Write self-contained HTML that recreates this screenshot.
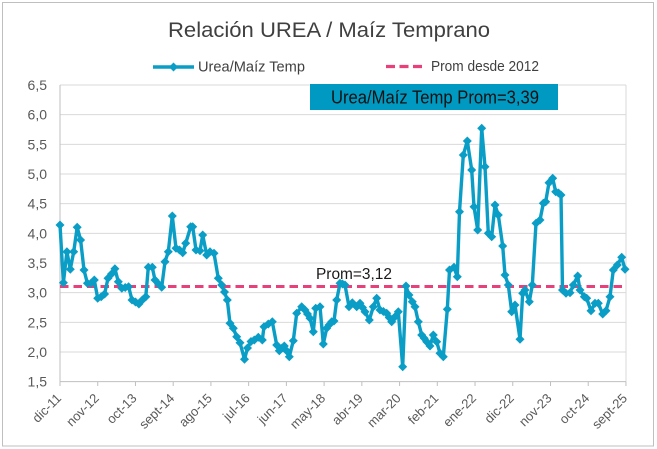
<!DOCTYPE html>
<html>
<head>
<meta charset="utf-8">
<style>
html,body{margin:0;padding:0;background:#fff;}
svg{display:block;}
text{font-family:"Liberation Sans",Arial,sans-serif;}
</style>
</head>
<body>
<svg width="657" height="449" viewBox="0 0 657 449" xmlns="http://www.w3.org/2000/svg">
<defs>
<marker id="dm" markerWidth="10" markerHeight="10" refX="5" refY="5" markerUnits="userSpaceOnUse">
<path d="M5 0.5L9.5 5L5 9.5L0.5 5Z" fill="#0a9dc6"/>
</marker>
</defs>
<rect x="0" y="0" width="657" height="449" fill="#fff"/>
<rect x="2.5" y="2.5" width="651" height="443.5" fill="none" stroke="#bfbfbf" stroke-width="1"/>

<!-- Title -->
<text x="168" y="37" font-size="21" fill="#404040" textLength="322" lengthAdjust="spacingAndGlyphs">Relación UREA / Maíz Temprano</text>

<!-- Legend -->
<line x1="153" y1="67" x2="194" y2="67" stroke="#0a9dc6" stroke-width="3.4"/>
<path d="M173.5 62.5L178 67L173.5 71.5L169 67Z" fill="#0a9dc6"/>
<text x="198" y="71.5" font-size="15" fill="#404040" textLength="107" lengthAdjust="spacingAndGlyphs">Urea/Maíz Temp</text>
<line x1="386" y1="66.5" x2="423" y2="66.5" stroke="#e8407a" stroke-width="3.2" stroke-dasharray="9,4.5"/>
<text x="431" y="71" font-size="15" fill="#404040" textLength="108" lengthAdjust="spacingAndGlyphs">Prom desde 2012</text>

<!-- Gridlines -->
<g stroke="#d9d9d9" stroke-width="1">
<line x1="60" y1="85" x2="626" y2="85"/>
<line x1="60" y1="114.67" x2="626" y2="114.67"/>
<line x1="60" y1="144.33" x2="626" y2="144.33"/>
<line x1="60" y1="174" x2="626" y2="174"/>
<line x1="60" y1="203.67" x2="626" y2="203.67"/>
<line x1="60" y1="233.33" x2="626" y2="233.33"/>
<line x1="60" y1="263" x2="626" y2="263"/>
<line x1="60" y1="292.67" x2="626" y2="292.67"/>
<line x1="60" y1="322.33" x2="626" y2="322.33"/>
<line x1="60" y1="352" x2="626" y2="352"/>
<line x1="626" y1="85" x2="626" y2="381.67"/>
</g>
<!-- Axes -->
<g stroke="#bfbfbf" stroke-width="1">
<line x1="60" y1="85" x2="60" y2="381.67"/>
<line x1="60" y1="381.67" x2="626" y2="381.67"/>
<line x1="60" y1="381.67" x2="60" y2="386"/>
<line x1="97.73" y1="381.67" x2="97.73" y2="386"/>
<line x1="135.46" y1="381.67" x2="135.46" y2="386"/>
<line x1="173.19" y1="381.67" x2="173.19" y2="386"/>
<line x1="210.92" y1="381.67" x2="210.92" y2="386"/>
<line x1="248.65" y1="381.67" x2="248.65" y2="386"/>
<line x1="286.38" y1="381.67" x2="286.38" y2="386"/>
<line x1="324.11" y1="381.67" x2="324.11" y2="386"/>
<line x1="361.84" y1="381.67" x2="361.84" y2="386"/>
<line x1="399.57" y1="381.67" x2="399.57" y2="386"/>
<line x1="437.3" y1="381.67" x2="437.3" y2="386"/>
<line x1="475.03" y1="381.67" x2="475.03" y2="386"/>
<line x1="512.76" y1="381.67" x2="512.76" y2="386"/>
<line x1="550.49" y1="381.67" x2="550.49" y2="386"/>
<line x1="588.22" y1="381.67" x2="588.22" y2="386"/>
<line x1="625.95" y1="381.67" x2="625.95" y2="386"/>
</g>

<!-- Y labels -->
<g font-size="14" fill="#595959" text-anchor="end">
<text x="47" y="90">6,5</text>
<text x="47" y="119.7">6,0</text>
<text x="47" y="149.3">5,5</text>
<text x="47" y="179">5,0</text>
<text x="47" y="208.7">4,5</text>
<text x="47" y="238.3">4,0</text>
<text x="47" y="268">3,5</text>
<text x="47" y="297.7">3,0</text>
<text x="47" y="327.3">2,5</text>
<text x="47" y="357">2,0</text>
<text x="47" y="386.7">1,5</text>
</g>

<!-- X labels -->
<g font-size="13" fill="#595959" text-anchor="end">
<text x="62" y="399" transform="rotate(-45 62 399)">dic-11</text>
<text x="99.7" y="399" transform="rotate(-45 99.7 399)">nov-12</text>
<text x="137.5" y="399" transform="rotate(-45 137.5 399)">oct-13</text>
<text x="175.2" y="399" transform="rotate(-45 175.2 399)">sept-14</text>
<text x="212.9" y="399" transform="rotate(-45 212.9 399)">ago-15</text>
<text x="250.7" y="399" transform="rotate(-45 250.7 399)">jul-16</text>
<text x="288.4" y="399" transform="rotate(-45 288.4 399)">jun-17</text>
<text x="326.1" y="399" transform="rotate(-45 326.1 399)">may-18</text>
<text x="363.8" y="399" transform="rotate(-45 363.8 399)">abr-19</text>
<text x="401.6" y="399" transform="rotate(-45 401.6 399)">mar-20</text>
<text x="439.3" y="399" transform="rotate(-45 439.3 399)">feb-21</text>
<text x="477" y="399" transform="rotate(-45 477 399)">ene-22</text>
<text x="514.8" y="399" transform="rotate(-45 514.8 399)">dic-22</text>
<text x="552.5" y="399" transform="rotate(-45 552.5 399)">nov-23</text>
<text x="590.2" y="399" transform="rotate(-45 590.2 399)">oct-24</text>
<text x="628" y="399" transform="rotate(-45 628 399)">sept-25</text>
</g>

<!-- Average line -->
<line x1="60" y1="286.5" x2="626" y2="286.5" stroke="#e8407a" stroke-width="3" stroke-dasharray="8.5,5"/>

<!-- Series -->
<polyline fill="none" stroke="#0a9dc6" stroke-width="3.4" stroke-linejoin="round" marker-start="url(#dm)" marker-mid="url(#dm)" marker-end="url(#dm)"
points="60,225 63.4,282.7 66.9,251.7 70.3,269.3 73.7,251.7 77.2,227.3 80.6,240 84,270 87.4,283.3 90.9,283.3 94.3,280 97.7,298.3 101.2,296.7 104.6,294 108,278.3 111.5,274 114.9,268.7 118.3,281.7 121.8,288.3 125.2,287.5 128.6,286.7 132,300 135.5,302 138.9,304 142.3,300 145.8,296.7 148.3,267.3 152.3,267.3 155,280 158.5,284 161.7,287.3 165,261.7 168.3,251.7 172.3,216 176,248.3 179.5,250 182.7,252.7 185.7,243.3 190.7,226.7 192.7,226.7 196,250 200,250.7 202.7,235 206.7,255 210,251.7 214,253.3 218.3,278.3 221.7,285 224.5,292 227.3,300 230,323.3 233.3,328.3 236.7,336.7 240,342.7 244.5,359.3 247.5,348 251,341.5 254.3,340 258.3,337.3 262.3,340 264,326.7 268.3,324 272.3,321.7 276.7,345 279.3,350.7 282,348 284.3,346 286.8,351 289.3,356.7 293.3,340.7 296.7,313.3 301.7,306.7 305,310 307.5,314 310,318.3 313.3,331.7 315.7,308.3 320,306.7 323.3,344 326.7,328.3 329,325 331.7,321.7 334,321 336.7,300 340,283.3 342.5,284 345,285 349,306.7 352.3,302.7 356.7,306.7 360,303.3 362.5,307.5 365,311.7 369.3,320 373.3,306.7 376.7,298.3 380,310 383.4,311.5 386.7,313.3 389.2,317.5 391.7,321.7 395,316.7 398.3,311.7 402.7,366.7 406,286 409,295 412.3,301.7 415,306.7 418.3,321.7 421.7,335 424.2,338.3 426.7,341.7 430,346 433.3,335 436.7,341.7 440,353.3 443.3,356.7 447.3,309.3 449.5,270 454,267.3 457.3,276.7 459.5,211.7 463.3,155 467.3,141 471.7,170 474,206.7 477.7,230 481.7,128.3 485,166.7 488.3,233.3 491.7,236.7 495,205 498.3,215 502.7,246 505,275 508.3,285 511.7,311.7 515,305 520,339.3 522.7,293.3 525,290 529.3,301.7 532.3,285 536,223.3 540,220 543.3,203.3 545.7,201.7 549,182.7 552.7,178.3 555.7,191.7 558.5,193 561,195 562.5,290 566,293.3 570,292.7 573.3,285 577.7,276 580,290 584.3,296.7 586.7,298.3 591,310.7 595,303.3 598.3,303.3 602.7,314 606,310.7 610,296.7 613.3,270 617.3,265 621.7,257.3 625,269.3"/>

<!-- Prom label -->
<text x="316" y="279" font-size="16" fill="#1a1a1a" textLength="76" lengthAdjust="spacingAndGlyphs">Prom=3,12</text>

<!-- Average box -->
<rect x="310" y="84" width="248" height="26" fill="#0099c1"/>
<text x="331" y="103.3" font-size="18" fill="#111" textLength="208" lengthAdjust="spacingAndGlyphs">Urea/Maíz Temp Prom=3,39</text>
</svg>
</body>
</html>
